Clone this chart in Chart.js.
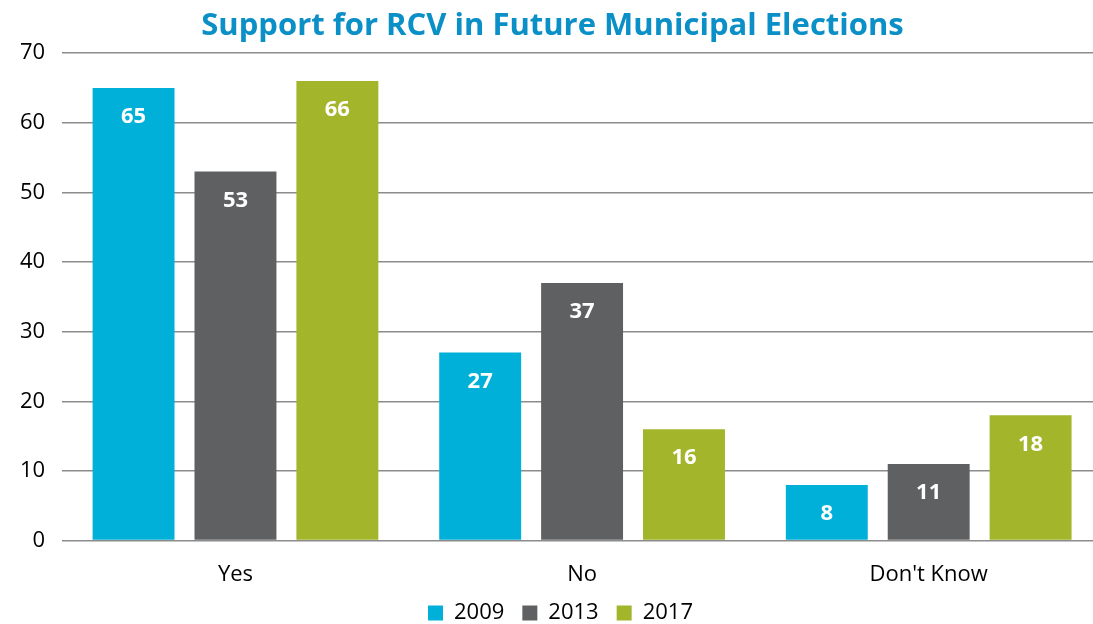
<!DOCTYPE html>
<html>
<head>
<meta charset="utf-8">
<script src="https://cdn.jsdelivr.net/npm/chart.js@4"></script>
<style>
  html, body { margin: 0; padding: 0; background: #fff; overflow: hidden; }
  #wrap { width: 1102px; height: 624px; }
</style>
</head>
<body>
<div id="wrap"><canvas id="rcvChart" width="1102" height="624"></canvas></div>
<script>
const categories = ["Yes", "No", "Don't Know"];
const years = ["2009", "2013", "2017"];
const values2009 = [65, 27, 8];
const values2013 = [53, 37, 11];
const values2017 = [66, 16, 18];
const yTicks = [0, 10, 20, 30, 40, 50, 60, 70];

const fontFamily = "'Open Sans', sans-serif";

// draws the value inside the top of each bar
const barValues = {
  id: "barValues",
  afterDatasetsDraw(chart) {
    const ctx = chart.ctx;
    ctx.save();
    ctx.fillStyle = "#ffffff";
    ctx.font = "bold 22px " + fontFamily;
    ctx.textAlign = "center";
    ctx.textBaseline = "middle";
    chart.data.datasets.forEach((ds, i) => {
      chart.getDatasetMeta(i).data.forEach((bar, j) => {
        ctx.fillText(ds.data[j], bar.x, bar.y + 29);
      });
    });
    ctx.restore();
  },
};

// legend needs wide item spacing but less height, and sits a bit right of centre
const tightLegend = {
  id: "tightLegend",
  beforeInit(chart) {
    const legend = chart.legend;
    if (!legend) return;
    const fit = legend.fit;
    legend.fit = function () {
      fit.call(this);
      this.height -= 12;
    };
  },
  afterLayout(chart) {
    if (!chart.legend) return;
    chart.legend.left += 8;
    chart.legend.right += 8;
  },
};

new Chart(document.getElementById("rcvChart"), {
  type: "bar",
  data: {
    labels: categories,
    datasets: [
      { label: years[0], data: values2009, backgroundColor: "#00b0d8" },
      { label: years[1], data: values2013, backgroundColor: "#5f6062" },
      { label: years[2], data: values2017, backgroundColor: "#a3b52a" },
    ],
  },
  options: {
    responsive: false,
    animation: false,
    categoryPercentage: 0.882,
    barPercentage: 0.804,
    layout: { padding: { left: 3, right: 0, top: 0, bottom: 2 } },
    scales: {
      x: {
        grid: { display: false },
        border: { display: false },
        ticks: { color: "#000", font: { family: fontFamily, size: 22 }, padding: 13 },
        afterFit(scale) {
          scale.height -= 17;
        },
      },
      y: {
        min: 0,
        max: 70,
        afterBuildTicks(axis) {
          axis.ticks = yTicks.map((v) => ({ value: v }));
        },
        grid: { color: "#8c8c8c", lineWidth: 1.5, drawTicks: false },
        border: { display: false },
        ticks: { color: "#000", font: { family: fontFamily, size: 22 }, padding: 17 },
      },
    },
    plugins: {
      title: {
        display: true,
        text: "Support for RCV in Future Municipal Elections",
        color: "#0a8fc6",
        font: { family: fontFamily, size: 31, weight: "bold" },
        padding: { top: 8, bottom: 8 },
      },
      legend: {
        position: "bottom",
        labels: {
          color: "#000",
          boxWidth: 15,
          boxHeight: 15,
          padding: 18,
          font: { family: fontFamily, size: 22 },
        },
      },
      tooltip: { enabled: false },
    },
  },
  plugins: [barValues, tightLegend],
});
</script>
</body>
</html>
